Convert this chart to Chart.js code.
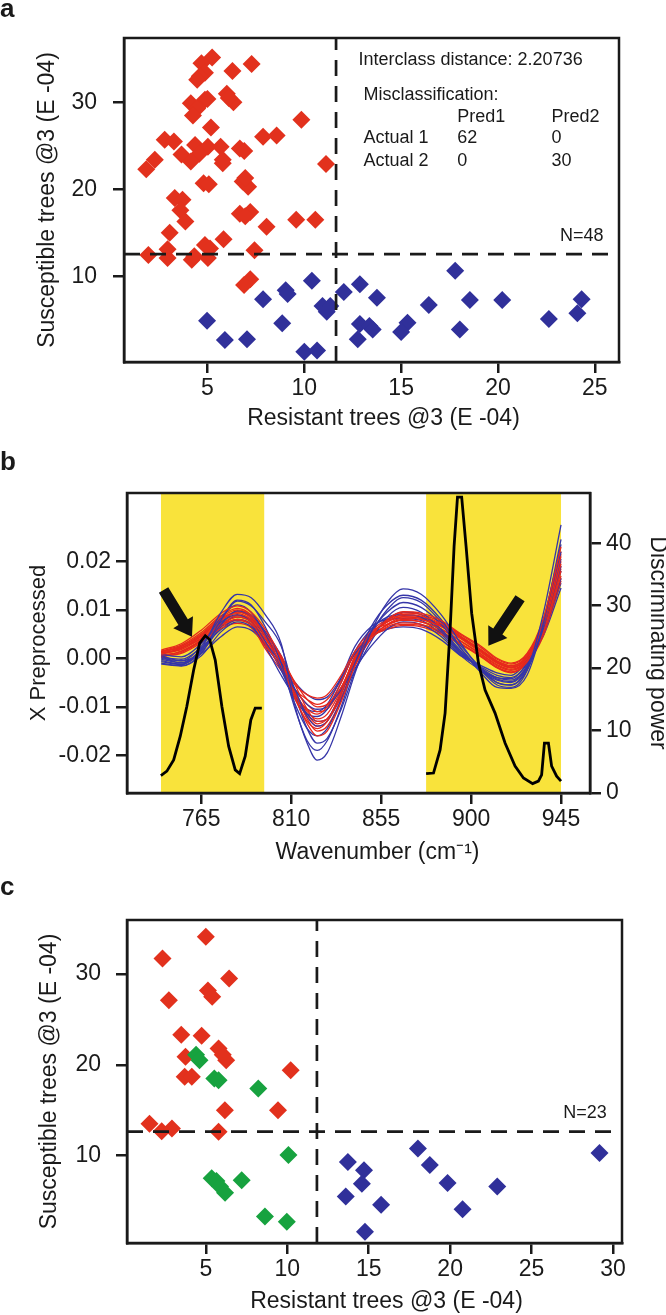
<!DOCTYPE html>
<html><head><meta charset="utf-8">
<script src="https://cdn.jsdelivr.net/npm/chart.js@4.4.0/dist/chart.umd.min.js"></script>
<style>
html,body{margin:0;padding:0;background:#fff;}
body{width:666px;height:1315px;position:relative;overflow:hidden;}
.wrap{position:absolute;left:0;width:666px;}
canvas{display:block;}
</style></head><body>
<div class="wrap" style="top:0px;height:440px"><canvas id="ca" width="666" height="440"></canvas></div>
<div class="wrap" style="top:440px;height:440px"><canvas id="cb" width="666" height="440"></canvas></div>
<div class="wrap" style="top:860px;height:455px"><canvas id="cc" width="666" height="455"></canvas></div>
<script>
// ---------- Panel a data ----------
const A_X_RANGE = [0.69, 26.25];
const A_Y_RANGE = [0.15, 37.4];
const A_X_TICKS = [5, 10, 15, 20, 25];
const A_Y_TICKS = [10, 20, 30];
const A_CUT_X = 11.64;
const A_CUT_Y = 12.56;
const aRed = [[5.24,35.17],[4.69,34.5],[7.28,34.4],[6.29,33.6],[4.87,33.4],[4.6,33.0],[4.47,32.6],[6.0,31.0],[6.34,30.0],[4.87,30.3],[5.0,30.4],[4.14,29.9],[4.47,29.3],[4.25,28.5],[9.85,28.0],[5.18,27.1],[2.79,25.7],[3.27,25.5],[4.36,25.1],[5.02,24.9],[5.68,24.9],[7.87,26.05],[8.57,26.2],[6.67,24.7],[6.9,24.4],[3.66,24.0],[4.58,24.1],[4.14,23.2],[5.79,23.4],[2.28,23.4],[1.84,22.3],[11.12,22.9],[5.79,23.0],[4.8,20.7],[5.07,20.6],[6.82,20.9],[7.1,20.3],[6.95,21.3],[3.31,19.0],[3.71,18.8],[3.6,17.6],[3.86,16.3],[6.67,17.2],[7.21,17.4],[6.95,16.9],[9.58,16.5],[10.57,16.5],[8.05,15.7],[3.05,15.0],[5.83,14.25],[4.87,13.6],[7.43,13.0],[2.94,13.1],[1.95,12.45],[2.94,12.1],[4.19,11.9],[5.02,12.1],[4.32,12.3],[7.21,9.65],[6.89,9.0],[5.13,13.2],[6.1,30.5]];
const aBlue = [[17.79,10.65],[10.39,9.5],[12.87,9.1],[9.04,8.4],[12.04,8.2],[9.14,7.97],[7.87,7.36],[13.75,7.55],[18.55,7.28],[20.22,7.28],[24.32,7.36],[10.94,6.59],[11.34,6.59],[11.16,5.94],[16.43,6.7],[24.1,5.75],[22.63,5.1],[4.98,4.9],[8.86,4.6],[12.87,4.52],[13.36,4.29],[13.53,3.9],[15.33,4.67],[15.0,3.6],[18.03,3.9],[5.9,2.68],[7.04,2.76],[12.76,2.76],[10.0,1.34],[10.66,1.46]];
const aNotes = [
  {text:'Interclass distance: 2.20736', x:12.8, y:34.86},
  {text:'Misclassification:', x:13.06, y:30.84},
  {text:'Pred1', x:17.9, y:28.31},{text:'Pred2', x:22.76, y:28.31},
  {text:'Actual 1', x:13.06, y:25.86},{text:'62', x:17.9, y:25.86},{text:'0', x:22.76, y:25.86},
  {text:'Actual 2', x:13.06, y:23.29},{text:'0', x:17.9, y:23.29},{text:'30', x:22.76, y:23.29},
  {text:'N=48', x:25.45, y:14.67, align:'right'}
];

// ---------- Panel b data ----------
const B_X_RANGE = [727.85, 959.5];
const B_Y_RANGE = [-0.02777, 0.03408];
const B_Y2_RANGE = [0, 48.06];
const B_X_TICKS = [765, 810, 855, 900, 945];
const B_Y_TICKS = [-0.02, -0.01, 0, 0.01, 0.02];
const B_Y2_TICKS = [0, 10, 20, 30, 40];
const B_BANDS = [[744.85, 796.5], [877.5, 945]];
const WN = [745,755,765,775,783,790,797,805,812,818,823,828,835,842,850,858,866,875,885,895,905,913,920,928,936,945];
// spectra values in thousandths (x 1e-3)
const blueSpectra = [
  [-0.5,-1.2,2.0,9.5,13.2,12.5, 9.0,3.0,-10.0,-17.5,-21.0,-19.5,-12.0,-3.0,5.5,11.5, 14.3,13.2,9.0,3.0,-2.5,-5.5,-6.0,-2.5,9.0,27.5],
  [-1.2,-1.6,1.0,8.0,12.0,11.0, 6.5,-1.0,-10.5,-17.0,-19.0,-17.0,-10.0,-1.0,6.5,11.0, 13.0,12.0,8.0,2.0,-3.0,-6.0,-6.2,-3.5,7.0,24.5],
  [0.5,-0.5,2.5,8.5,11.0,9.5, 5.0,-2.0,-9.5,-14.5,-16.0,-14.5,-8.5,-1.0,5.5,9.5, 11.5,10.5,7.0,2.0,-2.5,-5.0,-5.5,-2.5,6.5,22.0],
  [-0.2,-0.9,1.8,7.0,9.8,8.8, 5.5,0.5,-6.5,-12.0,-14.0,-13.0,-8.0,-2.5,3.5,8.5, 10.5,9.5,6.0,1.5,-2.5,-4.5,-5.0,-2.0,6.0,20.5],
  [0.8,0.3,3.0,7.5,9.0,7.5, 3.5,-2.5,-8.5,-11.5,-12.0,-10.5,-5.0,1.5,6.0,8.5, 9.0,8.5,5.5,1.0,-2.0,-4.0,-4.5,-1.5,6.5,19.0],
  [-1.0,-1.5,0.5,5.5,7.5,6.5, 3.0,-2.0,-6.5,-9.5,-10.5,-10.0,-6.5,-2.0,2.5,6.0, 7.5,7.0,4.5,0.5,-2.5,-4.0,-4.2,-1.0,5.0,16.5],
  [0.0,-0.5,1.0,4.5,6.5,5.8, 3.0,-1.0,-5.0,-7.5,-8.5,-8.0,-4.0,1.0,4.5,6.0, 6.5,6.0,3.8,0.5,-1.5,-3.0,-3.5,-0.5,4.5,14.5],
  [0.3,-1.0,1.5,8.0,11.8,10.8, 7.5,2.5,-7.5,-14.5,-17.5,-16.5,-10.5,-2.5,5.0,10.0, 12.5,11.5,7.5,2.5,-2.0,-5.0,-5.5,-2.0,7.5,23.5],
  [-0.7,-1.3,1.2,6.5,8.8,8.0, 4.5,-1.5,-7.5,-11.5,-13.0,-12.5,-7.0,-0.5,4.5,8.0, 9.5,9.0,5.8,1.2,-2.2,-4.3,-4.8,-1.8,5.5,18.0],
  [0.2,-0.2,2.2,6.0,8.0,7.0, 2.5,-3.5,-8.0,-10.5,-11.0,-9.5,-4.0,2.5,6.5,8.0, 8.2,7.8,5.0,0.8,-1.8,-3.5,-4.0,-1.2,5.0,15.5]
];
const redSpectra = [
  [1.7,3.0,5.8,9.3,10.8,9.5, 6.0,0.0,-8.0,-13.5,-16.0,-15.0,-9.0,-1.5,4.5,8.0, 9.6,9.3,7.8,5.0,2.5,0.0,-1.0,1.0,8.0,23.0],
  [1.2,2.5,5.0,8.5,10.0,8.8, 4.5,-1.5,-8.5,-13.0,-14.5,-13.0,-7.0,0.0,5.0,7.5, 9.0,8.7,7.2,4.5,1.8,-0.5,-1.5,0.5,7.0,21.0],
  [0.8,2.0,4.5,8.0,9.2,8.0, 5.0,0.5,-5.5,-10.5,-13.0,-12.5,-8.0,-1.5,4.0,7.0, 8.3,8.0,6.5,4.0,1.2,-1.0,-2.0,0.0,6.5,19.5],
  [1.4,2.2,4.0,7.0,8.5,7.5, 3.0,-2.0,-7.5,-10.5,-11.5,-10.0,-5.0,1.5,5.5,7.0, 8.0,7.5,6.0,3.5,0.8,-1.5,-2.5,-0.5,5.5,18.0],
  [0.3,1.2,3.5,6.8,8.0,7.0, 4.0,0.0,-5.0,-8.5,-10.0,-9.5,-6.0,-0.5,4.0,6.5, 7.3,7.0,5.5,3.0,0.5,-1.8,-2.8,-0.8,5.0,17.0],
  [0.5,1.0,3.2,6.2,7.2,6.3, 2.5,-1.5,-5.5,-7.5,-8.2,-7.5,-3.5,1.5,4.5,6.0, 6.8,6.5,5.0,2.8,0.3,-2.0,-3.0,-1.0,4.5,16.0],
  [1.0,1.8,4.2,7.5,8.8,7.8, 4.0,-1.0,-7.0,-11.0,-12.5,-11.5,-6.5,0.5,5.0,7.5, 8.6,8.3,6.8,4.2,1.5,-0.8,-1.8,0.2,6.8,20.0],
  [1.5,2.7,5.3,8.8,10.3,9.0, 5.5,0.0,-7.0,-12.5,-15.0,-14.0,-8.5,-1.0,4.5,7.8, 9.3,9.0,7.5,4.8,2.2,-0.2,-1.2,0.8,7.5,22.0],
  [0.6,1.5,3.8,7.2,8.5,7.5, 3.5,-1.0,-6.5,-9.5,-11.0,-10.5,-6.0,0.0,4.5,6.8, 7.8,7.5,6.0,3.5,0.9,-1.3,-2.3,-0.3,5.8,18.5],
  [1.1,2.1,4.6,7.8,9.5,8.3, 4.5,-0.5,-7.0,-11.5,-13.5,-12.5,-7.5,-0.5,4.8,7.5, 8.5,8.2,6.7,4.3,1.4,-0.9,-1.9,0.1,6.2,19.0],
  [0.4,1.4,3.6,6.5,7.8,6.8, 2.0,-2.5,-6.5,-8.5,-9.5,-8.5,-4.5,1.0,4.5,6.3, 7.0,6.8,5.3,3.0,0.4,-1.9,-2.9,-0.9,4.8,16.5],
  [1.3,2.4,4.8,8.2,9.6,8.5, 5.0,-0.5,-7.5,-12.0,-14.0,-13.0,-7.0,0.5,5.5,8.0, 8.8,8.5,7.0,4.4,1.6,-0.6,-1.6,0.4,7.2,21.5]
];
const dpWn1 = [744.8,747.8,751.2,754.5,757.8,761.2,764.2,767.0,769.2,772.0,775.3,778.7,782.0,784.2,787.0,789.8,792.0,795.3];
const dpVal1 = [2.8,3.5,5.3,9.1,13.9,19.7,24.0,25.2,24.6,21.3,13.9,7.5,3.7,3.1,5.9,11.7,13.6,13.6];
const dpWn2 = [877.5,881.2,884.5,887.0,889.5,891.5,893.2,895.3,897.5,900.3,903.7,907.0,912.0,917.0,922.0,926.2,930.8,933.7,935.3,936.7,938.7,940.3,942.8,945.0];
const dpVal2 = [3.1,3.2,6.9,12.8,26.1,39.5,47.4,47.4,39.5,28.8,20.8,16.5,12.8,8.0,4.3,2.4,1.5,1.9,2.9,8.0,8.0,4.3,2.7,1.9];
const bArrows = [
  {from:[746.15, 0.01408], to:[760.35, 0.00445]},
  {from:[924.5, 0.01237], to:[908.65, 0.0026]}
];

// ---------- Panel c data ----------
const C_X_RANGE = [0.16, 30.55];
const C_Y_RANGE = [0.38, 35.95];
const C_X_TICKS = [5, 10, 15, 20, 25, 30];
const C_Y_TICKS = [10, 20, 30];
const C_CUT_X = 11.82;
const C_CUT_Y = 12.64;
const cRed = [[5.0,34.1],[2.34,31.7],[6.43,29.5],[5.13,28.2],[5.39,27.5],[2.73,27.1],[3.49,23.3],[4.74,23.2],[5.78,21.8],[3.75,20.9],[6.25,20.5],[6.04,21.1],[10.21,19.4],[3.7,18.7],[4.14,18.7],[6.17,15.0],[9.43,15.0],[1.54,13.5],[2.29,12.7],[2.92,13.0],[5.78,12.64]];
const cGreen = [[4.4,21.1],[4.61,20.5],[5.52,18.5],[5.78,18.3],[8.22,17.4],[10.07,10.07],[5.36,7.5],[5.65,7.2],[5.87,6.6],[6.18,5.9],[7.2,7.3],[8.63,3.3],[9.97,2.73]];
const cBlue = [[18.02,10.8],[29.17,10.3],[13.72,9.3],[14.71,8.4],[18.75,8.97],[14.58,6.9],[19.84,7.0],[22.89,6.6],[13.59,5.5],[15.76,4.6],[20.76,4.1],[14.77,1.63]];
const cNotes = [{text:'N=23', x:29.61, y:14.66, align:'right'}];

// ---------- styles ----------
const FONT = "'Liberation Sans', Arial, Helvetica, sans-serif";
const INK = '#1a1a1a';
const RED = '#e2311d', BLUE = '#30309a', GREEN = '#17a23f';
const YELLOW = '#f9e33b';
const SPEC_BLUE = '#3535a8', SPEC_RED = '#e6281c';

const boxPlugin = {
  id: 'box',
  afterDraw(chart) {
    const {ctx, chartArea: a} = chart;
    ctx.save();
    ctx.strokeStyle = INK; ctx.lineWidth = 2.5;
    ctx.strokeRect(a.left, a.top, a.right - a.left, a.bottom - a.top);
    ctx.restore();
  }
};
const notesPlugin = {
  id: 'notes',
  afterDatasetsDraw(chart, args, opts) {
    const ctx = chart.ctx;
    const sx = chart.scales.x, sy = chart.scales.y;
    const a = chart.chartArea;
    ctx.save();
    (opts.items || []).forEach(it => {
      ctx.font = (it.size || 18) + 'px ' + FONT;
      ctx.fillStyle = INK;
      ctx.textAlign = it.align || 'left';
      ctx.textBaseline = 'middle';
      ctx.fillText(it.text, sx.getPixelForValue(it.x), sy.getPixelForValue(it.y));
    });
    (opts.arrows || []).forEach(ar => {
      const tx = sx.getPixelForValue(ar.from[0]), ty = sy.getPixelForValue(ar.from[1]);
      const px = sx.getPixelForValue(ar.to[0]), py = sy.getPixelForValue(ar.to[1]);
      const L = Math.hypot(px - tx, py - ty);
      const dx = (px - tx) / L, dy = (py - ty) / L;
      const nx = -dy, ny = dx;
      const w = 5.5, hw = 11.5, hl = 17;
      const bx = px - dx * hl, by = py - dy * hl;
      ctx.beginPath();
      ctx.moveTo(tx + nx * w, ty + ny * w);
      ctx.lineTo(bx + nx * w, by + ny * w);
      ctx.lineTo(bx + nx * hw, by + ny * hw);
      ctx.lineTo(px, py);
      ctx.lineTo(bx - nx * hw, by - ny * hw);
      ctx.lineTo(bx - nx * w, by - ny * w);
      ctx.lineTo(tx - nx * w, ty - ny * w);
      ctx.closePath();
      ctx.fillStyle = '#111';
      ctx.fill();
    });
    if (opts.xTitle) {
      ctx.font = '23px ' + FONT;
      ctx.fillStyle = INK;
      ctx.textAlign = 'center';
      ctx.textBaseline = 'middle';
      ctx.fillText(opts.xTitle.text, (a.left + a.right) / 2 + opts.xTitle.dx, opts.xTitle.y);
    }
    if (opts.letter) {
      ctx.font = 'bold 26px ' + FONT;
      ctx.fillStyle = INK;
      ctx.textAlign = 'left';
      ctx.textBaseline = 'alphabetic';
      ctx.fillText(opts.letter.text, 0, opts.letter.y);
    }
    ctx.restore();
  }
};
const bandsPlugin = {
  id: 'bands',
  beforeDatasetsDraw(chart, args, opts) {
    const {ctx, chartArea: a} = chart;
    const sx = chart.scales.x;
    ctx.save();
    ctx.fillStyle = YELLOW;
    (opts.bands || []).forEach(b => {
      const x0 = sx.getPixelForValue(b[0]), x1 = sx.getPixelForValue(b[1]);
      ctx.fillRect(x0, a.top, x1 - x0, a.bottom - a.top);
    });
    ctx.restore();
  }
};

function axis(range, ticks, o) {
  return Object.assign({
    type: 'linear', min: range[0], max: range[1],
    afterBuildTicks: s => { s.ticks = ticks.map(v => ({value: v})); },
    grid: {display: true, drawOnChartArea: false, drawTicks: true, tickLength: 11, color: INK, lineWidth: 2.5},
    border: {display: true, color: INK, width: 2.5}
  }, o);
}
function tickOpts(pad, cb) {
  const t = {font: {family: FONT, size: 23}, color: INK, padding: pad, autoSkip: false, maxRotation: 0, minRotation: 0};
  if (cb) t.callback = cb;
  return t;
}
function titleOpts(text, size, pad) {
  return {display: true, text: text, font: {family: FONT, size: size}, color: INK, padding: pad};
}
const pts = arr => arr.map(p => ({x: p[0], y: p[1]}));
function dashed(x0, y0, x1, y1) {
  return {data: [{x: x0, y: y0}, {x: x1, y: y1}], showLine: true, borderColor: INK, borderWidth: 2.7, borderDash: [16, 10], pointRadius: 0, fill: false};
}
function diamonds(arr, color) {
  return {data: pts(arr), pointStyle: 'rectRot', pointRadius: 9, backgroundColor: color, borderWidth: 0, showLine: false};
}
const baseOpts = {responsive: false, animation: false, events: []};

// ---------- Panel a ----------
new Chart(document.getElementById('ca'), {
  type: 'scatter',
  data: {datasets: [
    dashed(A_CUT_X, A_Y_RANGE[0], A_CUT_X, A_Y_RANGE[1]),
    dashed(A_X_RANGE[0], A_CUT_Y, A_X_RANGE[1], A_CUT_Y),
    diamonds(aBlue, BLUE),
    diamonds(aRed, RED)
  ]},
  options: Object.assign({}, baseOpts, {
    layout: {padding: {top: 38, right: 47, left: 0, bottom: 0}},
    plugins: {legend: {display: false}, tooltip: {enabled: false},
      notes: {items: aNotes, letter: {text: 'a', y: 17},
        xTitle: {text: 'Resistant trees @3 (E -04)', dx: 12, y: 419}}},
    scales: {
      x: axis(A_X_RANGE, A_X_TICKS, {afterFit: s => { s.height = 78; }, ticks: tickOpts(2)}),
      y: axis(A_Y_RANGE, A_Y_TICKS, {afterFit: s => { s.width = 124; },
        ticks: tickOpts(16), title: titleOpts('Susceptible trees @3 (E -04)', 23, {top: 34, bottom: 0})})
    }
  }),
  plugins: [boxPlugin, notesPlugin]
});

// ---------- Panel b ----------
const specSets = [];
const nSpec = Math.max(blueSpectra.length, redSpectra.length);
for (let i = 0; i < nSpec; i++) {
  const pair = [];
  if (blueSpectra[i]) pair.push([blueSpectra[i], SPEC_BLUE]);
  if (redSpectra[i]) pair.push([redSpectra[i], SPEC_RED]);
  pair.forEach(([vals, col]) => {
    specSets.push({data: WN.map((w, k) => ({x: w, y: vals[k] / 1000})), yAxisID: 'y',
      borderColor: col, borderWidth: 1.3, pointRadius: 0, cubicInterpolationMode: 'monotone', fill: false});
  });
}
new Chart(document.getElementById('cb'), {
  type: 'line',
  data: {datasets: [
    {data: dpWn1.map((w, k) => ({x: w, y: dpVal1[k]})), yAxisID: 'y2', borderColor: '#000', borderWidth: 2.8, pointRadius: 0, tension: 0, fill: false},
    {data: dpWn2.map((w, k) => ({x: w, y: dpVal2[k]})), yAxisID: 'y2', borderColor: '#000', borderWidth: 2.8, pointRadius: 0, tension: 0, fill: false}
  ].concat(specSets)},
  options: Object.assign({}, baseOpts, {
    layout: {padding: {top: 53, right: 0, left: 0, bottom: 0}},
    plugins: {legend: {display: false}, tooltip: {enabled: false},
      bands: {bands: B_BANDS},
      notes: {arrows: bArrows, letter: {text: 'b', y: 30},
        xTitle: {text: 'Wavenumber (cm\u207B\u00B9)', dx: 19, y: 413}}},
    scales: {
      x: axis(B_X_RANGE, B_X_TICKS, {afterFit: s => { s.height = 87; }, ticks: tickOpts(2)}),
      y: axis(B_Y_RANGE, B_Y_TICKS, {position: 'left', afterFit: s => { s.width = 127; },
        ticks: tickOpts(5, v => Number(v).toFixed(2)), title: titleOpts('X Preprocessed', 22, {top: 26, bottom: 0})}),
      y2: axis(B_Y2_RANGE, B_Y2_TICKS, {position: 'right', afterFit: s => { s.width = 76; },
        ticks: tickOpts(5), title: titleOpts('Discriminating power', 23, {top: -5, bottom: 0})})
    }
  }),
  plugins: [bandsPlugin, boxPlugin, notesPlugin]
});

// ---------- Panel c ----------
new Chart(document.getElementById('cc'), {
  type: 'scatter',
  data: {datasets: [
    dashed(C_CUT_X, C_Y_RANGE[0], C_CUT_X, C_Y_RANGE[1]),
    dashed(C_X_RANGE[0], C_CUT_Y, C_X_RANGE[1], C_CUT_Y),
    diamonds(cBlue, BLUE),
    diamonds(cGreen, GREEN),
    diamonds(cRed, RED)
  ]},
  options: Object.assign({}, baseOpts, {
    layout: {padding: {top: 60, right: 44, left: 0, bottom: 0}},
    plugins: {legend: {display: false}, tooltip: {enabled: false},
      notes: {items: cNotes, letter: {text: 'c', y: 35},
        xTitle: {text: 'Resistant trees @3 (E -04)', dx: 12, y: 442}}},
    scales: {
      x: axis(C_X_RANGE, C_X_TICKS, {afterFit: s => { s.height = 72; }, ticks: tickOpts(2)}),
      y: axis(C_Y_RANGE, C_Y_TICKS, {afterFit: s => { s.width = 127; },
        ticks: tickOpts(15), title: titleOpts('Susceptible trees @3 (E -04)', 23, {top: 36, bottom: 0})})
    }
  }),
  plugins: [boxPlugin, notesPlugin]
});
</script>
</body></html>
